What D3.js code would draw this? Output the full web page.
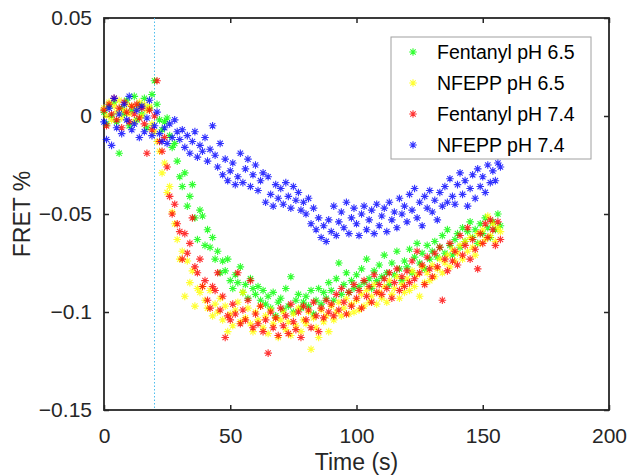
<!DOCTYPE html>
<html>
<head>
<meta charset="utf-8">
<script src="https://cdn.jsdelivr.net/npm/d3@7"></script>
<style>
  body { margin: 0; background: #fff; }
  #svg-container { width: 628px; height: 476px; }
  text { font-family: "Liberation Sans", Arial, sans-serif; fill: #262626; }
  .axis path { display: none; }
  .axis line { stroke: #262626; stroke-width: 1.5; }
</style>
</head>
<body>
<div id="svg-container"></div>
<script>
////////////////////////////////////////////////////////////////////
////////////////////////////  Data  ////////////////////////////////

// one frame per second
const times = [
  0, 1, 2, 3, 4, 5, 6, 7, 8, 9,
  10, 11, 12, 13, 14, 15, 16, 17, 18, 19,
  20, 21, 22, 23, 24, 25, 26, 27, 28, 29,
  30, 31, 32, 33, 34, 35, 36, 37, 38, 39,
  40, 41, 42, 43, 44, 45, 46, 47, 48, 49,
  50, 51, 52, 53, 54, 55, 56, 57, 58, 59,
  60, 61, 62, 63, 64, 65, 66, 67, 68, 69,
  70, 71, 72, 73, 74, 75, 76, 77, 78, 79,
  80, 81, 82, 83, 84, 85, 86, 87, 88, 89,
  90, 91, 92, 93, 94, 95, 96, 97, 98, 99,
  100, 101, 102, 103, 104, 105, 106, 107, 108, 109,
  110, 111, 112, 113, 114, 115, 116, 117, 118, 119,
  120, 121, 122, 123, 124, 125, 126, 127, 128, 129,
  130, 131, 132, 133, 134, 135, 136, 137, 138, 139,
  140, 141, 142, 143, 144, 145, 146, 147, 148, 149,
  150, 151, 152, 153, 154, 155, 156, 157
];

const fentanyl65 = [
  0.002, -0.004, 0.005, 0.000, 0.007, -0.003, -0.019, 0.004, 0.001, 0.008,
  -0.005, 0.003, 0.010, -0.002, 0.006, 0.001, 0.009, -0.006, 0.004, 0.011,
  0.018, 0.006, -0.002, -0.007, -0.003, -0.001, -0.010, -0.016, -0.014, -0.023,
  -0.031, -0.036, -0.029, -0.046, -0.041, -0.035, -0.052, -0.063, -0.048, -0.051,
  -0.066, -0.058, -0.067, -0.062, -0.073, -0.069, -0.080, -0.074, -0.079, -0.073,
  -0.084, -0.088, -0.081, -0.085, -0.077, -0.090, -0.086, -0.093, -0.083, -0.088,
  -0.091, -0.087, -0.094, -0.089, -0.096, -0.092, -0.098, -0.090, -0.102, -0.095,
  -0.093, -0.099, -0.088, -0.097, -0.082, -0.100, -0.094, -0.091, -0.098, -0.095,
  -0.092, -0.097, -0.089, -0.101, -0.094, -0.088, -0.096, -0.090, -0.093, -0.085,
  -0.089, -0.094, -0.083, -0.075, -0.091, -0.086, -0.080, -0.090, -0.084, -0.088,
  -0.081, -0.087, -0.078, -0.085, -0.073, -0.083, -0.088, -0.079, -0.084, -0.076,
  -0.082, -0.071, -0.080, -0.086, -0.075, -0.081, -0.069, -0.078, -0.084, -0.074,
  -0.077, -0.068, -0.080, -0.072, -0.065, -0.075, -0.070, -0.078, -0.066, -0.073,
  -0.069, -0.064, -0.072, -0.067, -0.061, -0.070, -0.058, -0.066, -0.071, -0.063,
  -0.060, -0.067, -0.057, -0.064, -0.059, -0.054, -0.062, -0.058, -0.065, -0.055,
  -0.060, -0.052, -0.057, -0.062, -0.054, -0.058, -0.050, -0.056
];

const nfepp65 = [
  0.004, 0.000, 0.007, -0.002, 0.005, 0.002, 0.008, -0.001, 0.003, 0.006,
  0.001, 0.005, -0.003, 0.004, 0.007, 0.000, 0.006, 0.003, 0.005, -0.004,
  -0.008, -0.013, -0.018, -0.029, -0.024, -0.039, -0.036, -0.049, -0.055, -0.063,
  -0.073, -0.069, -0.092, -0.074, -0.085, -0.079, -0.097, -0.088, -0.090, -0.087,
  -0.094, -0.098, -0.089, -0.102, -0.096, -0.100, -0.093, -0.104, -0.097, -0.110,
  -0.101, -0.107, -0.099, -0.095, -0.105, -0.090, -0.103, -0.098, -0.106, -0.110,
  -0.100, -0.104, -0.097, -0.108, -0.102, -0.111, -0.099, -0.106, -0.103, -0.113,
  -0.104, -0.100, -0.109, -0.105, -0.112, -0.101, -0.107, -0.098, -0.110, -0.104,
  -0.106, -0.100, -0.119, -0.103, -0.108, -0.113, -0.099, -0.105, -0.102, -0.110,
  -0.097, -0.104, -0.100, -0.095, -0.102, -0.098, -0.093, -0.101, -0.096, -0.100,
  -0.094, -0.099, -0.091, -0.097, -0.089, -0.095, -0.092, -0.086, -0.096, -0.090,
  -0.093, -0.087, -0.095, -0.084, -0.091, -0.088, -0.082, -0.093, -0.086, -0.090,
  -0.083, -0.089, -0.079, -0.087, -0.081, -0.092, -0.077, -0.085, -0.080, -0.084,
  -0.076, -0.082, -0.078, -0.073, -0.080, -0.075, -0.071, -0.077, -0.068, -0.074,
  -0.070, -0.066, -0.073, -0.064, -0.069, -0.062, -0.067, -0.071, -0.060, -0.065,
  -0.058, -0.063, -0.051, -0.061, -0.055, -0.064, -0.057, -0.059
];

const fentanyl74 = [
  0.003, -0.005, 0.006, 0.001, 0.009, -0.002, 0.004, -0.006, 0.007, 0.002,
  -0.003, 0.005, 0.001, 0.006, -0.001, 0.004, -0.004, -0.019, 0.003, -0.007,
  0.000, 0.018, -0.013, -0.018, -0.011, -0.026, -0.041, -0.050, -0.045, -0.055,
  -0.059, -0.073, -0.060, -0.070, -0.065, -0.052, -0.077, -0.080, -0.073, -0.087,
  -0.084, -0.094, -0.098, -0.087, -0.089, -0.080, -0.099, -0.092, -0.113, -0.102,
  -0.104, -0.096, -0.101, -0.080, -0.106, -0.099, -0.104, -0.094, -0.084, -0.108,
  -0.101, -0.106, -0.097, -0.110, -0.104, -0.121, -0.100, -0.108, -0.103, -0.112,
  -0.098, -0.107, -0.102, -0.111, -0.096, -0.105, -0.109, -0.100, -0.113, -0.097,
  -0.104, -0.099, -0.108, -0.095, -0.102, -0.110, -0.098, -0.103, -0.094, -0.100,
  -0.096, -0.102, -0.091, -0.099, -0.088, -0.095, -0.101, -0.090, -0.097, -0.086,
  -0.093, -0.089, -0.098, -0.084, -0.092, -0.087, -0.095, -0.081, -0.090, -0.086,
  -0.091, -0.083, -0.088, -0.080, -0.093, -0.085, -0.078, -0.089, -0.082, -0.087,
  -0.079, -0.085, -0.074, -0.083, -0.069, -0.080, -0.076, -0.086, -0.072, -0.078,
  -0.082, -0.070, -0.077, -0.067, -0.094, -0.073, -0.079, -0.065, -0.074, -0.069,
  -0.076, -0.061, -0.071, -0.066, -0.057, -0.073, -0.063, -0.068, -0.078, -0.060,
  -0.065, -0.055, -0.062, -0.053, -0.058, -0.066, -0.054, -0.063
];

const nfepp74 = [
  -0.003, -0.012, 0.004, -0.015, 0.009, -0.006, 0.001, -0.009, 0.006, -0.002,
  0.010, -0.007, -0.004, 0.003, -0.011, 0.005, -0.008, -0.001, 0.008, -0.010,
  -0.005, 0.002, -0.009, -0.013, -0.006, -0.014, -0.004, -0.011, -0.002, -0.008,
  -0.012, -0.007, -0.016, -0.010, -0.019, -0.013, -0.008, -0.021, -0.015, -0.018,
  -0.011, -0.023, -0.017, -0.005, -0.020, -0.026, -0.014, -0.030, -0.022, -0.033,
  -0.028, -0.024, -0.035, -0.031, -0.019, -0.034, -0.027, -0.022, -0.036, -0.030,
  -0.025, -0.038, -0.033, -0.029, -0.044, -0.031, -0.040, -0.046, -0.035, -0.042,
  -0.037, -0.045, -0.034, -0.041, -0.047, -0.036, -0.043, -0.039, -0.048, -0.044,
  -0.050, -0.042, -0.055, -0.047, -0.058, -0.052, -0.062, -0.056, -0.064, -0.053,
  -0.059, -0.046, -0.061, -0.054, -0.049, -0.057, -0.044, -0.060, -0.052, -0.047,
  -0.055, -0.061, -0.050, -0.046, -0.058, -0.053, -0.048, -0.060, -0.045, -0.056,
  -0.051, -0.047, -0.059, -0.044, -0.053, -0.049, -0.057, -0.042, -0.050, -0.046,
  -0.054, -0.040, -0.048, -0.037, -0.052, -0.044, -0.056, -0.041, -0.047, -0.038,
  -0.049, -0.043, -0.053, -0.039, -0.046, -0.036, -0.044, -0.032, -0.041, -0.045,
  -0.035, -0.029, -0.040, -0.033, -0.046, -0.037, -0.030, -0.042, -0.027, -0.036,
  -0.031, -0.039, -0.025, -0.034, -0.028, -0.033, -0.024, -0.026
];

const seriesNames = ["Fentanyl pH 6.5", "NFEPP pH 6.5", "Fentanyl pH 7.4", "NFEPP pH 7.4"];
const seriesValues = [fentanyl65, nfepp65, fentanyl74, nfepp74];
const seriesColors = ["#00ff00", "#ffff00", "#ff0000", "#0000ff"];

const xTicks = [0, 50, 100, 150, 200];
const yTicks = [0.05, 0, -0.05, -0.1, -0.15];
const stimTime = 20;

////////////////////////////////////////////////////////////////////
////////////////////////////  Init  ////////////////////////////////

const width = 628;
const height = 476;
const margin = { top: 18, right: 19, bottom: 66, left: 104 };

const svg = d3
  .select("#svg-container")
  .append("svg")
  .attr("width", width)
  .attr("height", height);

// scale
const xScale = d3.scaleLinear().domain([0, 200]).range([margin.left, width - margin.right]);
const yScale = d3.scaleLinear().domain([-0.15, 0.05]).range([height - margin.bottom, margin.top]);

// matlab style asterisk: plus + cross
const asterisk = {
  draw(ctx, size) {
    const r = Math.sqrt(size) / 2;
    const d = r * 0.7071;
    ctx.moveTo(-r, 0);
    ctx.lineTo(r, 0);
    ctx.moveTo(0, -r);
    ctx.lineTo(0, r);
    ctx.moveTo(-d, -d);
    ctx.lineTo(d, d);
    ctx.moveTo(-d, d);
    ctx.lineTo(d, -d);
  },
};
const marker = d3.symbol().type(asterisk).size(58);

////////////////////////////////////////////////////////////////////
////////////////////////////  Axes  ////////////////////////////////

const fmtY = (d) => (d === 0 ? "0" : d3.format("")(+d.toFixed(2)));

svg
  .append("g")
  .attr("class", "axis")
  .attr("transform", `translate(0, ${height - margin.bottom})`)
  .call(d3.axisBottom(xScale).tickValues(xTicks).tickSizeInner(-5).tickSizeOuter(0).tickPadding(18))
  .call((g) => g.selectAll("text").style("font-size", "21px"));

svg
  .append("g")
  .attr("class", "axis")
  .attr("transform", `translate(${margin.left}, 0)`)
  .call(d3.axisLeft(yScale).tickValues(yTicks).tickFormat(fmtY).tickSizeInner(-5).tickSizeOuter(0).tickPadding(12))
  .call((g) => g.selectAll("text").style("font-size", "21px"));

svg
  .append("g")
  .attr("class", "axis")
  .attr("transform", `translate(0, ${margin.top})`)
  .call(d3.axisTop(xScale).tickValues(xTicks).tickFormat("").tickSizeInner(-5).tickSizeOuter(0));

svg
  .append("g")
  .attr("class", "axis")
  .attr("transform", `translate(${width - margin.right}, 0)`)
  .call(d3.axisRight(yScale).tickValues(yTicks).tickFormat("").tickSizeInner(-5).tickSizeOuter(0));

// box
svg
  .append("rect")
  .attr("x", xScale(0))
  .attr("y", yScale(0.05))
  .attr("width", xScale(200) - xScale(0))
  .attr("height", yScale(-0.15) - yScale(0.05))
  .attr("fill", "none")
  .attr("stroke", "#262626")
  .attr("stroke-width", 1.8);

// labels
svg
  .append("text")
  .attr("x", (xScale(0) + xScale(200)) / 2)
  .attr("y", 470)
  .attr("text-anchor", "middle")
  .style("font-size", "23px")
  .text("Time (s)");

svg
  .append("text")
  .attr("transform", `translate(30, ${(yScale(0.05) + yScale(-0.15)) / 2}) rotate(-90)`)
  .attr("text-anchor", "middle")
  .style("font-size", "23px")
  .text("FRET %");

////////////////////////////////////////////////////////////////////
////////////////////////////  Marks  ///////////////////////////////

// stimulus line
svg
  .append("line")
  .attr("x1", xScale(stimTime))
  .attr("x2", xScale(stimTime))
  .attr("y1", yScale(0.05))
  .attr("y2", yScale(-0.15))
  .attr("stroke", "#4dbeee")
  .attr("stroke-width", 1)
  .attr("stroke-dasharray", "1.5,2");

seriesValues.forEach((vals, i) => {
  svg
    .append("g")
    .selectAll("path")
    .data(vals.map((v, j) => ({ t: times[j], v: v })))
    .join("path")
    .attr("d", marker)
    .attr("transform", (d) => `translate(${xScale(d.t)}, ${yScale(d.v)})`)
    .attr("fill", "none")
    .attr("stroke", seriesColors[i])
    .attr("stroke-width", 1.1)
    .attr("opacity", 0.8);
});

////////////////////////////////////////////////////////////////////
////////////////////////////  Legend  //////////////////////////////

const legend = svg.append("g").attr("transform", "translate(391, 37)");

legend
  .append("rect")
  .attr("width", 200)
  .attr("height", 122)
  .attr("fill", "#fff")
  .attr("stroke", "#a0a0a0")
  .attr("stroke-width", 1);

seriesNames.forEach((name, i) => {
  const row = legend.append("g").attr("transform", `translate(0, ${15 + i * 31})`);
  row
    .append("path")
    .attr("d", marker)
    .attr("transform", "translate(22, 0)")
    .attr("fill", "none")
    .attr("stroke", seriesColors[i])
    .attr("stroke-width", 1.1)
    .attr("opacity", 0.8);
  row
    .append("text")
    .attr("x", 46)
    .attr("dy", "0.35em")
    .style("font-size", "19.5px")
    .style("fill", "#000")
    .text(name);
});
</script>
</body>
</html>
